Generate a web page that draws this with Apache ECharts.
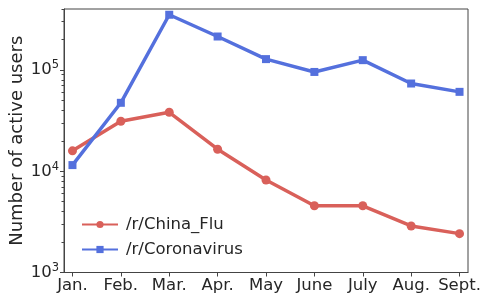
<!DOCTYPE html>
<html>
<head>
<meta charset="utf-8">
<script src="https://cdn.jsdelivr.net/npm/echarts@6/dist/echarts.min.js"></script>
<style>html,body{margin:0;padding:0;background:#fff}#c{width:482px;height:301px}</style>
</head>
<body>
<div id="c"></div>
<script>
const months = ["Jan.", "Feb.", "Mar.", "Apr.", "May", "June", "July", "Aug.", "Sept."];
const chinaFlu = [15900, 31200, 38200, 16500, 8200, 4560, 4560, 2880, 2420];
const coronavirus = [11500, 47400, 351000, 214000, 128000, 95600, 125000, 73500, 60800];
const majorTicks = [1000, 10000, 100000];
const minorTicks = [2000,3000,4000,5000,6000,7000,8000,9000,20000,30000,40000,50000,60000,70000,80000,90000,200000,300000,400000];
const names = ["/r/China_Flu", "/r/Coronavirus"];

const chart = echarts.init(document.getElementById('c'), null, {renderer: 'canvas'});
const font = 'DejaVu Sans';
const txt = '#262626';
const yMin = 1000, yMax = 400000;

function toPts(arr){ return arr.map((v,i)=>[i,v]); }

chart.setOption({
  animation: false,
  textStyle: {fontFamily: font},
  grid: {left: 64, right: 14, top: 9, bottom: 28.5, show: true, borderColor: '#444', borderWidth: 1, backgroundColor: 'transparent', containLabel: false, outerBoundsMode: 'none'},
  legend: {
    orient: 'vertical', left: 76, top: 211,
    itemWidth: 36, itemHeight: 9, itemGap: 8,
    textStyle: {fontFamily: font, fontSize: 16.5, color: txt, padding: [0,0,0,3]},
    data: names
  },
  xAxis: {
    type: 'value', min: -0.175, max: 8.175,
    splitLine: {show: false},
    axisLine: {show: true, onZero: false, lineStyle: {color: '#444', width: 1}},
    axisTick: {show: true, inside: false, length: 4, lineStyle: {color: '#444'}, customValues: months.map((m,i)=>i)},
    axisLabel: {fontFamily: font, fontSize: 16.5, color: txt, margin: 5, customValues: months.map((m,i)=>i), formatter: v => months[Math.round(v)]}
  },
  yAxis: [{
    type: 'log', min: yMin, max: yMax, logBase: 10,
    name: 'Number of active users', nameLocation: 'middle', nameGap: 38, nameMoveOverlap: false,
    nameTextStyle: {fontFamily: font, fontSize: 18, color: txt},
    splitLine: {show: false},
    axisLine: {show: true, onZero: false, lineStyle: {color: '#444', width: 1}},
    axisTick: {show: true, length: 4, lineStyle: {color: '#444'}, customValues: majorTicks},
    axisLabel: {
      customValues: majorTicks, margin: 5,
      formatter: v => '10{s|' + Math.round(Math.log10(v)) + '}',
      rich: {s: {fontFamily: font, fontSize: 11.5, color: txt, verticalAlign: 'top', padding: [0,0,9,0]}},
      fontFamily: font, fontSize: 16.5, color: txt
    }
  },{
    type: 'log', min: yMin, max: yMax, logBase: 10, position: 'left',
    splitLine: {show: false},
    axisLine: {show: false, onZero: false},
    axisTick: {show: true, length: 2.5, lineStyle: {color: '#444'}, customValues: minorTicks},
    axisLabel: {show: false}
  }],
  series: [{
    name: names[0], type: 'line', data: toPts(chinaFlu),
    symbol: 'circle', symbolSize: 9,
    lineStyle: {color: '#d9605a', width: 3.5},
    itemStyle: {color: '#d9605a'}
  },{
    name: names[1], type: 'line', data: toPts(coronavirus),
    symbol: 'rect', symbolSize: 8,
    lineStyle: {color: '#5470dd', width: 3.5},
    itemStyle: {color: '#5470dd'}
  }]
});
</script>
</body>
</html>
